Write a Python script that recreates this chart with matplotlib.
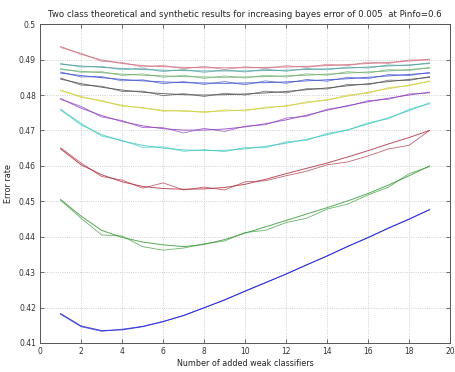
import matplotlib
matplotlib.use("Agg")
import matplotlib.pyplot as plt

# data
steps = list(range(1, 20))

blue_theo = [0.4183, 0.4148, 0.4135, 0.4137, 0.4146, 0.4160, 0.4178, 0.4199, 0.4222, 0.4246,
             0.4270, 0.4295, 0.4320, 0.4346, 0.4372, 0.4398, 0.4424, 0.4450, 0.4476]
blue_syn = [0.4181, 0.4146, 0.4133, 0.4139, 0.4147, 0.4161, 0.4177, 0.4200, 0.4221, 0.4247,
            0.4271, 0.4294, 0.4321, 0.4345, 0.4373, 0.4397, 0.4425, 0.4449, 0.4477]

green_theo = [0.4505, 0.4458, 0.4418, 0.4398, 0.4385, 0.4377, 0.4372, 0.4378, 0.4392, 0.4410,
              0.4428, 0.4446, 0.4464, 0.4482, 0.4501, 0.4522, 0.4546, 0.4572, 0.4600]
green_syn = [0.4503, 0.4452, 0.4405, 0.4402, 0.4372, 0.4362, 0.4368, 0.4380, 0.4388, 0.4412,
             0.4418, 0.4440, 0.4452, 0.4478, 0.4492, 0.4518, 0.4540, 0.4578, 0.4598]

red_theo = [0.4648, 0.4603, 0.4575, 0.4555, 0.4542, 0.4536, 0.4534, 0.4535, 0.4539, 0.4548,
            0.4562, 0.4578, 0.4593, 0.4608, 0.4625, 0.4643, 0.4662, 0.4680, 0.4700]
red_syn = [0.4651, 0.4608, 0.4570, 0.4560, 0.4537, 0.4552, 0.4532, 0.4540, 0.4532, 0.4555,
           0.4558, 0.4572, 0.4585, 0.4603, 0.4611, 0.4628, 0.4648, 0.4658, 0.4700]

cyan_theo = [0.4758, 0.4716, 0.4688, 0.4670, 0.4658, 0.4650, 0.4645, 0.4643, 0.4644, 0.4648,
             0.4655, 0.4664, 0.4675, 0.4688, 0.4702, 0.4718, 0.4736, 0.4756, 0.4778]
cyan_syn = [0.4760, 0.4720, 0.4684, 0.4672, 0.4652, 0.4654, 0.4641, 0.4646, 0.4640, 0.4652,
            0.4651, 0.4668, 0.4672, 0.4692, 0.4700, 0.4722, 0.4733, 0.4760, 0.4775]

magenta_theo = [0.4790, 0.4763, 0.4742, 0.4725, 0.4713, 0.4705, 0.4701, 0.4701, 0.4704, 0.4710,
                0.4719, 0.4730, 0.4743, 0.4757, 0.4770, 0.4781, 0.4791, 0.4800, 0.4808]
magenta_syn = [0.4788, 0.4768, 0.4738, 0.4728, 0.4708, 0.4708, 0.4693, 0.4706, 0.4697, 0.4712,
               0.4716, 0.4735, 0.4740, 0.4760, 0.4768, 0.4784, 0.4788, 0.4803, 0.4806]

yellow_theo = [0.4812, 0.4796, 0.4782, 0.4771, 0.4763, 0.4757, 0.4754, 0.4753, 0.4755, 0.4758,
               0.4763, 0.4770, 0.4778, 0.4787, 0.4797, 0.4808, 0.4818, 0.4828, 0.4838]
yellow_syn = [0.4815, 0.4793, 0.4785, 0.4768, 0.4765, 0.4754, 0.4757, 0.4750, 0.4758, 0.4755,
              0.4766, 0.4768, 0.4781, 0.4785, 0.4800, 0.4805, 0.4821, 0.4826, 0.4840]

black_theo = [0.4845, 0.4832, 0.4822, 0.4814, 0.4808, 0.4804, 0.4801, 0.4800, 0.4801, 0.4803,
              0.4806, 0.4810, 0.4815, 0.4820, 0.4826, 0.4832, 0.4838, 0.4844, 0.4850]
black_syn = [0.4848, 0.4828, 0.4825, 0.4810, 0.4811, 0.4798, 0.4804, 0.4796, 0.4805, 0.4800,
             0.4811, 0.4806, 0.4818, 0.4817, 0.4830, 0.4829, 0.4842, 0.4841, 0.4852]

blue2_theo = [0.4862, 0.4855, 0.4849, 0.4844, 0.4840, 0.4837, 0.4835, 0.4834, 0.4833, 0.4834,
              0.4835, 0.4837, 0.4840, 0.4843, 0.4846, 0.4850, 0.4854, 0.4858, 0.4862]
blue2_syn = [0.4865, 0.4851, 0.4852, 0.4840, 0.4843, 0.4832, 0.4838, 0.4830, 0.4838, 0.4829,
             0.4840, 0.4833, 0.4844, 0.4839, 0.4850, 0.4846, 0.4858, 0.4855, 0.4864]

green2_theo = [0.4872, 0.4867, 0.4863, 0.4859, 0.4856, 0.4854, 0.4852, 0.4851, 0.4850, 0.4851,
               0.4852, 0.4854, 0.4856, 0.4859, 0.4862, 0.4865, 0.4868, 0.4872, 0.4876]
green2_syn = [0.4875, 0.4864, 0.4866, 0.4855, 0.4860, 0.4850, 0.4856, 0.4847, 0.4854, 0.4848,
              0.4856, 0.4851, 0.4860, 0.4856, 0.4866, 0.4862, 0.4872, 0.4869, 0.4878]

red2_theo = [0.4937, 0.4915, 0.4899, 0.4889, 0.4883, 0.4880, 0.4878, 0.4877, 0.4877, 0.4877,
             0.4878, 0.4879, 0.4881, 0.4883, 0.4886, 0.4889, 0.4892, 0.4896, 0.4901]
red2_syn = [0.4934, 0.4918, 0.4895, 0.4892, 0.4879, 0.4884, 0.4874, 0.4881, 0.4872, 0.4880,
            0.4875, 0.4883, 0.4878, 0.4887, 0.4883, 0.4893, 0.4889, 0.4899, 0.4899]

cyan2_theo = [0.4887, 0.4882, 0.4878, 0.4875, 0.4872, 0.4870, 0.4869, 0.4868, 0.4868, 0.4868,
              0.4869, 0.4870, 0.4872, 0.4874, 0.4876, 0.4879, 0.4882, 0.4885, 0.4889]
cyan2_syn = [0.4889, 0.4879, 0.4881, 0.4871, 0.4876, 0.4866, 0.4872, 0.4864, 0.4871, 0.4865,
             0.4873, 0.4867, 0.4875, 0.4871, 0.4879, 0.4876, 0.4885, 0.4883, 0.4891]

pairs = [
    (blue_theo, blue_syn, "#2020d8"),
    (green_theo, green_syn, "#3a9a3a"),
    (red_theo, red_syn, "#b03040"),
    (cyan_theo, cyan_syn, "#40c8c0"),
    (magenta_theo, magenta_syn, "#9040c0"),
    (yellow_theo, yellow_syn, "#d0d040"),
    (black_theo, black_syn, "#505050"),
    (blue2_theo, blue2_syn, "#4050d0"),
    (green2_theo, green2_syn, "#70b070"),
    (red2_theo, red2_syn, "#d07080"),
    (cyan2_theo, cyan2_syn, "#50a0a0"),
]

title = "Two class theoretical and synthetic results for increasing bayes error of 0.005  at Pinfo=0.6"
x_label = "Number of added weak classifiers"
y_label = "Error rate"
x_ticks = [0, 2, 4, 6, 8, 10, 12, 14, 16, 18, 20]
y_ticks = [0.41, 0.42, 0.43, 0.44, 0.45, 0.46, 0.47, 0.48, 0.49, 0.5]
y_tick_labels = ["0.41", "0.42", "0.43", "0.44", "0.45", "0.46", "0.47", "0.48", "0.49", "0.5"]

fig = plt.figure(figsize=(4.56, 3.72), dpi=100)
ax = fig.add_axes([0.088, 0.078, 0.899, 0.857])

for theo, syn, col in pairs:
    ax.plot(steps, theo, color=col, linewidth=0.7, alpha=0.85)
    ax.plot(steps, syn, color=col, linewidth=0.6, alpha=0.75)

ax.set_xlim(0, 20)
ax.set_ylim(0.41, 0.5)
ax.set_xticks(x_ticks)
ax.set_yticks(y_ticks)
ax.set_yticklabels(y_tick_labels)
ax.grid(True, linestyle=":", color="#c0c0c0", linewidth=0.6)
ax.tick_params(direction="in", top=True, right=True, labelsize=5.5, length=3,
               width=0.5, colors="#333333", pad=3)
for s in ax.spines.values():
    s.set_linewidth(0.7)
    s.set_color("#555555")

ax.set_title(title, fontsize=6.2, pad=5, color="#222222")
ax.set_xlabel(x_label, fontsize=5.8, labelpad=2, color="#222222")
ax.set_ylabel(y_label, fontsize=5.8, labelpad=4, color="#222222")

fig.savefig("out.png", dpi=100)
